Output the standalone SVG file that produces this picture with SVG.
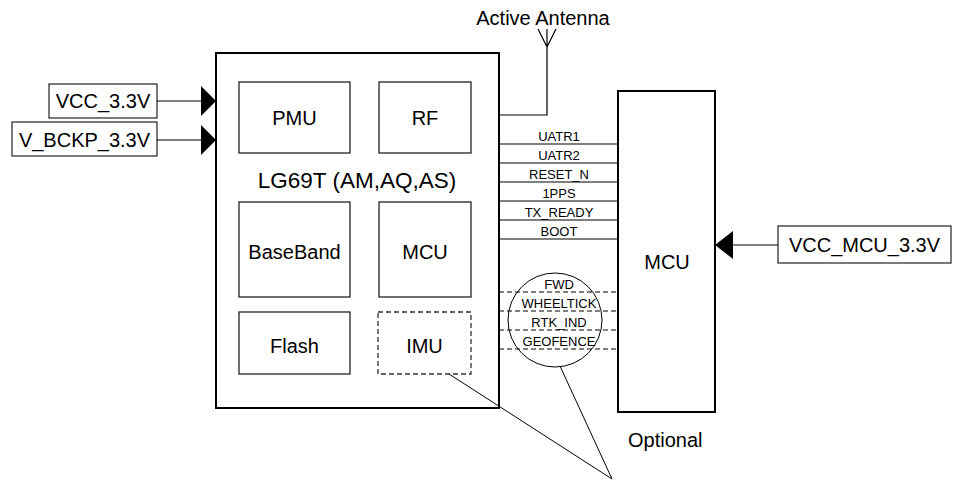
<svg xmlns="http://www.w3.org/2000/svg" width="956" height="484" viewBox="0 0 956 484">
<style>
text{font-family:"Liberation Sans",Arial,sans-serif;fill:#000}
.big{font-size:20px}
.title{font-size:22.5px}
.sig{font-size:13px}
.blk{fill:#fff;stroke:#000;stroke-width:2}
.inner{fill:#fff;stroke:#222;stroke-width:1.3}
.dash{fill:none;stroke:#333;stroke-width:1.3;stroke-dasharray:5,3}
.lbl{fill:#fff;stroke:#222;stroke-width:1.2}
.ln{fill:none;stroke:#000;stroke-width:1.2}
.sl{fill:none;stroke:#000;stroke-width:1}
.dl{fill:none;stroke:#000;stroke-width:1;stroke-dasharray:5,3}
.tri{fill:#000}
</style>
<rect width="956" height="484" fill="#fff"/>
<g id="module">
<rect class="blk" x="216" y="53" width="283" height="355"/>
<text class="title" x="357" y="188" text-anchor="middle">LG69T (AM,AQ,AS)</text>
</g>
<g id="pmu"><rect class="inner" x="239" y="82" width="111" height="71"/><text class="big" x="294.5" y="125" text-anchor="middle">PMU</text></g>
<g id="rf"><rect class="inner" x="379" y="82" width="92" height="71"/><text class="big" x="425" y="125" text-anchor="middle">RF</text></g>
<g id="baseband"><rect class="inner" x="239" y="202" width="111" height="95"/><text class="big" x="294.5" y="259" text-anchor="middle">BaseBand</text></g>
<g id="mcu-inner"><rect class="inner" x="379" y="202" width="92" height="95"/><text class="big" x="425" y="259" text-anchor="middle">MCU</text></g>
<g id="flash"><rect class="inner" x="239" y="312" width="111" height="62"/><text class="big" x="294.5" y="353" text-anchor="middle">Flash</text></g>
<g id="imu"><rect class="dash" x="378" y="312" width="93" height="62"/><text class="big" x="424.5" y="353" text-anchor="middle">IMU</text></g>
<g id="mcu">
<rect class="blk" x="618" y="91" width="97" height="321"/>
<text class="big" x="667" y="269" text-anchor="middle">MCU</text>
</g>
<g id="vcc"><rect class="lbl" x="49" y="84" width="108" height="34"/><text class="big" x="103" y="108" text-anchor="middle">VCC_3.3V</text></g>
<g id="vbckp"><rect class="lbl" x="12" y="122" width="145" height="34"/><text class="big" x="84.5" y="147" text-anchor="middle">V_BCKP_3.3V</text></g>
<g id="vccmcu"><rect class="lbl" x="778" y="226" width="173" height="37"/><text class="big" x="864.5" y="252" text-anchor="middle">VCC_MCU_3.3V</text></g>
<g id="antenna">
<text class="big" x="543" y="25" text-anchor="middle">Active Antenna</text>
<path class="ln" d="M538,29 L547,47 L556,29 M547,29 V115 H499"/>
</g>
<g id="optional"><text class="big" x="628" y="447">Optional</text></g>
<g id="connectors">
<path class="ln" d="M157,101 H201 M157,140 H201 M778,245 H733"/>
<polygon class="tri" points="201,86 216,101 201,116"/>
<polygon class="tri" points="201,125 216,140 201,155"/>
<polygon class="tri" points="733,231 715,245 733,259"/>
<path class="sl" d="M499,144 H618 M499,163 H618 M499,182 H618 M499,201 H618 M499,220 H618 M499,239 H618"/>
<path class="dl" d="M499,292 H618 M499,311 H618 M499,330 H618 M499,349 H618"/>
<circle cx="555" cy="320" r="47" fill="none" stroke="#000" stroke-width="1"/>
<path class="sl" d="M449,374 L612,479 L560,366"/>
<g class="sig" text-anchor="middle">
<text x="559" y="141">UATR1</text>
<text x="559" y="160">UATR2</text>
<text x="559" y="179">RESET_N</text>
<text x="559" y="198">1PPS</text>
<text x="559" y="217">TX_READY</text>
<text x="559" y="236">BOOT</text>
<text x="559" y="289">FWD</text>
<text x="559" y="308">WHEELTICK</text>
<text x="559" y="327">RTK_IND</text>
<text x="559" y="346">GEOFENCE</text>
</g>
</g>
</svg>
